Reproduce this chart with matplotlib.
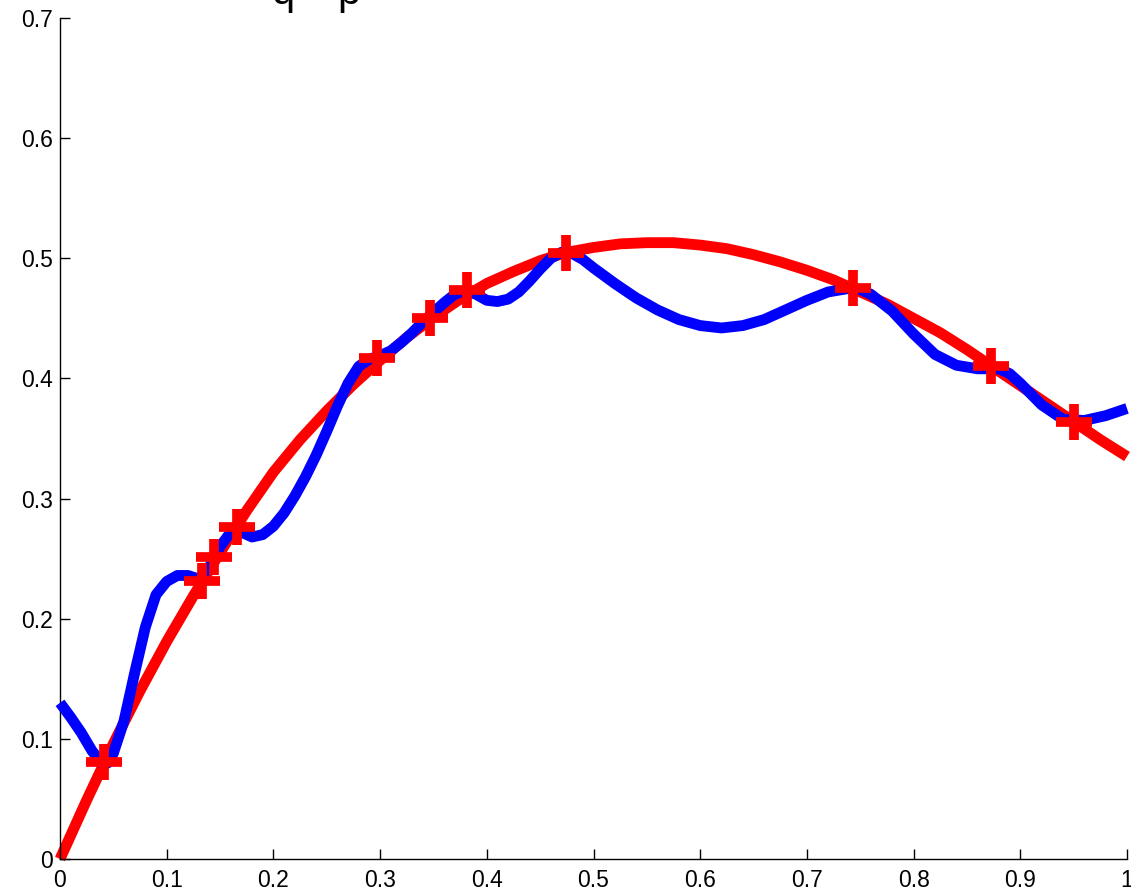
import matplotlib
matplotlib.use("Agg")
import matplotlib.pyplot as plt

# Blue (wiggly interpolant)
blue_x = [0.00, 0.01, 0.02, 0.03, 0.04, 0.045, 0.05, 0.06, 0.07, 0.08, 0.09,
          0.10, 0.11, 0.12, 0.13, 0.14, 0.15, 0.16, 0.17, 0.18, 0.19,
          0.20, 0.21, 0.22, 0.23, 0.24, 0.25, 0.26, 0.27, 0.28, 0.29,
          0.30, 0.31, 0.32, 0.33, 0.34, 0.35, 0.36, 0.37, 0.38, 0.39,
          0.40, 0.41, 0.42, 0.43, 0.44, 0.45, 0.46, 0.47, 0.48, 0.49,
          0.50, 0.52, 0.54, 0.56, 0.58, 0.60, 0.62, 0.64, 0.66, 0.68,
          0.70, 0.72, 0.74, 0.75, 0.76, 0.78, 0.80, 0.82, 0.84, 0.86,
          0.88, 0.89, 0.90, 0.92, 0.94, 0.96, 0.98, 1.00]
blue_y = [0.130, 0.118, 0.105, 0.090, 0.079, 0.080, 0.088, 0.115, 0.155, 0.193, 0.220,
          0.231, 0.236, 0.236, 0.233, 0.243, 0.260, 0.272, 0.272, 0.268, 0.270,
          0.277, 0.288, 0.302, 0.318, 0.336, 0.356, 0.377, 0.396, 0.410, 0.416,
          0.419, 0.423, 0.430, 0.438, 0.447, 0.455, 0.463, 0.470, 0.473, 0.470,
          0.465, 0.464, 0.466, 0.472, 0.481, 0.491, 0.500, 0.505, 0.504, 0.499,
          0.492, 0.479, 0.467, 0.457, 0.449, 0.444, 0.442, 0.444, 0.449, 0.457,
          0.465, 0.472, 0.475, 0.474, 0.470, 0.456, 0.437, 0.420, 0.411, 0.408,
          0.408, 0.404, 0.396, 0.378, 0.366, 0.365, 0.369, 0.375]

# Red (smooth fit)
red_x = [0.000, 0.025, 0.050, 0.075, 0.100, 0.125, 0.150, 0.175, 0.200, 0.225,
         0.250, 0.275, 0.300, 0.325, 0.350, 0.375, 0.400, 0.425, 0.450, 0.475,
         0.500, 0.525, 0.550, 0.575, 0.600, 0.625, 0.650, 0.675, 0.700, 0.725,
         0.750, 0.775, 0.800, 0.825, 0.850, 0.875, 0.900, 0.925, 0.950, 0.975, 1.000]
red_y = [0.000, 0.049, 0.096, 0.140, 0.181, 0.219, 0.255, 0.290, 0.322, 0.349,
         0.373, 0.395, 0.415, 0.434, 0.451, 0.466, 0.479, 0.489, 0.498, 0.505,
         0.509, 0.512, 0.513, 0.513, 0.511, 0.508, 0.503, 0.497, 0.490, 0.482,
         0.472, 0.462, 0.450, 0.438, 0.424, 0.409, 0.394, 0.379, 0.364, 0.349, 0.335]

# Sample points (red plus markers)
pts_x = [0.041, 0.133, 0.144, 0.166, 0.297, 0.347, 0.381, 0.474, 0.743, 0.873, 0.950]
pts_y = [0.081, 0.231, 0.251, 0.276, 0.417, 0.450, 0.474, 0.504, 0.475, 0.410, 0.364]

xticks = [0, 0.1, 0.2, 0.3, 0.4, 0.5, 0.6, 0.7, 0.8, 0.9, 1]
xtick_labels = ["0", "0.1", "0.2", "0.3", "0.4", "0.5", "0.6", "0.7", "0.8", "0.9", "1"]
yticks = [0, 0.1, 0.2, 0.3, 0.4, 0.5, 0.6, 0.7]
ytick_labels = ["0", "0.1", "0.2", "0.3", "0.4", "0.5", "0.6", "0.7"]

plt.rcParams['font.family'] = ['Liberation Sans', 'DejaVu Sans']

fig = plt.figure(figsize=(11.31, 8.94), dpi=100)
ax = fig.add_axes([60/1131, 35/894, (1127-60)/1131, (859-18)/894])

ax.plot(red_x, red_y, color='#ff0000', lw=7.8, solid_capstyle='butt',
        solid_joinstyle='round', clip_on=False, zorder=2)
ax.plot(blue_x, blue_y, color='#0000ff', lw=7.8, solid_capstyle='butt',
        solid_joinstyle='round', clip_on=False, zorder=3)
ax.plot(pts_x, pts_y, linestyle='none', marker='+', color='#ff0000',
        markersize=26, markeredgewidth=7, clip_on=False, zorder=4)

ax.set_xlim(0, 1)
ax.set_ylim(0, 0.7)
ax.set_xticks(xticks)
ax.set_xticklabels(xtick_labels)
ax.set_yticks(yticks)
ax.set_yticklabels(ytick_labels)
ax.spines['top'].set_visible(False)
ax.spines['right'].set_visible(False)
for s in ['left', 'bottom']:
    ax.spines[s].set_linewidth(1.0)
ax.tick_params(direction='in', length=7, width=1.0, labelsize=16.5)
ax.tick_params(axis='x', pad=7)
ax.tick_params(axis='y', pad=5)

# Partially cut-off title text at the top edge
fig.text(283/1131, 1 - 4/894, "q", fontsize=30, ha='center', va='baseline')
fig.text(349/1131, 1 - 4/894, "p", fontsize=30, ha='center', va='baseline')

fig.savefig("out.png", dpi=100, facecolor='white')
